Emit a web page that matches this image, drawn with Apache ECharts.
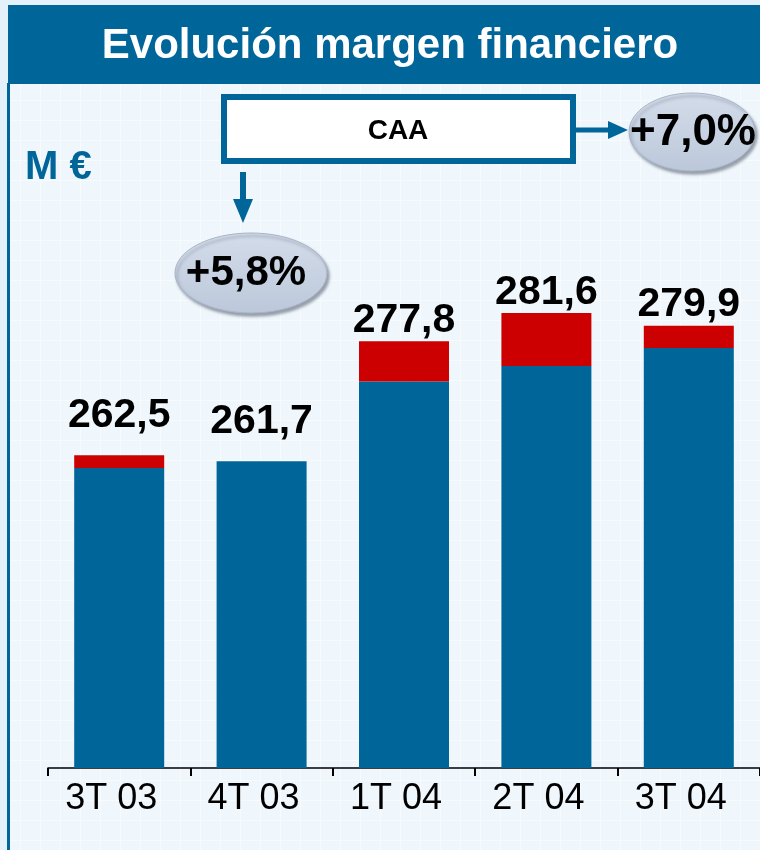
<!DOCTYPE html>
<html>
<head>
<meta charset="utf-8">
<script src="https://cdn.jsdelivr.net/npm/echarts@6/dist/echarts.min.js"></script>
<style>
  html, body { margin: 0; padding: 0; background: #eaf4fb; }
  #chart { width: 760px; height: 850px; }
</style>
</head>
<body>
<div id="chart"></div>
<script>
const categories = ['3T 03', '4T 03', '1T 04', '2T 04', '3T 04'];
const baseValues = [260.8, 261.7, 272.4, 274.5, 276.9];
const extraValues = [1.7, 0, 5.4, 7.1, 3.0];
const totals = [262.5, 261.7, 277.8, 281.6, 279.9];
const growthCaa = '+7,0%';
const growthYear = '+5,8%';

const BLUE = '#006699';
const RED = '#cc0000';
const FONT = 'Liberation Sans, Arial, sans-serif';

// faint squared paper background
const tile = document.createElement('canvas');
tile.width = 20;
tile.height = 20;
const tctx = tile.getContext('2d');
tctx.fillStyle = '#f0f7fc';
tctx.fillRect(0, 0, 20, 20);
tctx.fillStyle = '#f7fbfe';
tctx.fillRect(0, 0, 20, 1);
tctx.fillRect(0, 0, 1, 20);

const fmt = v => v.toFixed(1).replace('.', ',');

const ellipseStyle = {
  fill: new echarts.graphic.LinearGradient(0, 0, 0, 1, [
    { offset: 0, color: '#d3dcea' },
    { offset: 1, color: '#bcc8da' }
  ]),
  stroke: '#a9b5c8',
  lineWidth: 1,
  shadowColor: 'rgba(60,70,90,0.5)',
  shadowBlur: 3,
  shadowOffsetX: 2,
  shadowOffsetY: 3
};

const chart = echarts.init(document.getElementById('chart'));
chart.setOption({
  backgroundColor: { image: tile, repeat: 'repeat' },
  animation: false,
  grid: { left: 48, width: 716, top: 176, bottom: 82 },
  xAxis: {
    type: 'category',
    data: categories,
    boundaryGap: true,
    axisLine: { show: true, lineStyle: { color: '#000', width: 1.5 } },
    axisTick: { show: true, alignWithLabel: false, length: 8, lineStyle: { color: '#000', width: 2 } },
    axisLabel: {
      color: '#000', fontSize: 36, fontFamily: FONT, margin: 13,
      padding: [0, 16, 0, 0]
    }
  },
  yAxis: {
    type: 'value',
    min: 220.5,
    max: 300,
    show: false,
    splitLine: { show: false }
  },
  series: [
    {
      name: 'base',
      type: 'bar',
      stack: 'total',
      barWidth: 90,
      itemStyle: { color: BLUE },
      data: baseValues
    },
    {
      name: 'extra',
      type: 'bar',
      stack: 'total',
      barWidth: 90,
      itemStyle: { color: RED },
      data: extraValues.map((v, i) => ({
        value: v,
        label: { distance: i < 2 ? 19 : 0 }
      })),
      label: {
        show: true,
        position: 'top',
        color: '#000',
        fontSize: 41,
        fontWeight: 'bold',
        fontFamily: FONT,
        formatter: p => fmt(totals[p.dataIndex])
      }
    }
  ],
  graphic: [
    { type: 'rect', shape: { x: 0, y: 0, width: 8, height: 850 }, style: { fill: '#e4f1fa' } },
    { type: 'rect', shape: { x: 0, y: 0, width: 760, height: 5 }, style: { fill: '#e4f1fa' } },
    { type: 'rect', shape: { x: 7, y: 83, width: 3, height: 767 }, style: { fill: BLUE } },
    { type: 'rect', shape: { x: 8, y: 5, width: 752, height: 79 }, style: { fill: BLUE } },
    {
      type: 'text', x: 390, y: 46,
      style: {
        text: 'Evolución margen financiero', fill: '#fff', font: 'bold 42px ' + FONT,
        textAlign: 'center', textVerticalAlign: 'middle'
      }
    },
    {
      type: 'text', x: 25, y: 168,
      style: {
        text: 'M €', fill: BLUE, font: 'bold 40px ' + FONT,
        textAlign: 'left', textVerticalAlign: 'middle'
      }
    },
    // CAA box
    {
      type: 'rect', shape: { x: 224, y: 97, width: 349, height: 64 },
      style: { fill: '#fff', stroke: BLUE, lineWidth: 6 }
    },
    {
      type: 'text', x: 398, y: 131,
      style: {
        text: 'CAA', fill: '#000', font: 'bold 28px ' + FONT,
        textAlign: 'center', textVerticalAlign: 'middle'
      }
    },
    // arrow to the right
    { type: 'line', shape: { x1: 576, y1: 130, x2: 612, y2: 130 }, style: { stroke: BLUE, lineWidth: 5 } },
    { type: 'polygon', shape: { points: [[608, 121], [628, 130], [608, 139]] }, style: { fill: BLUE } },
    // arrow down
    { type: 'line', shape: { x1: 243, y1: 172, x2: 243, y2: 202 }, style: { stroke: BLUE, lineWidth: 6 } },
    { type: 'polygon', shape: { points: [[233, 199], [253, 199], [243, 223]] }, style: { fill: BLUE } },
    // bubbles
    { type: 'ellipse', shape: { cx: 692, cy: 132, rx: 63, ry: 39 }, style: ellipseStyle },
    {
      type: 'text', x: 693, y: 133,
      style: {
        text: growthCaa, fill: '#000', font: 'bold 44px ' + FONT,
        textAlign: 'center', textVerticalAlign: 'middle'
      }
    },
    { type: 'ellipse', shape: { cx: 251, cy: 273, rx: 76, ry: 40 }, style: ellipseStyle },
    {
      type: 'text', x: 246, y: 273,
      style: {
        text: growthYear, fill: '#000', font: 'bold 42px ' + FONT,
        textAlign: 'center', textVerticalAlign: 'middle'
      }
    }
  ]
});

window.addEventListener('resize', () => chart.resize());
</script>
</body>
</html>
